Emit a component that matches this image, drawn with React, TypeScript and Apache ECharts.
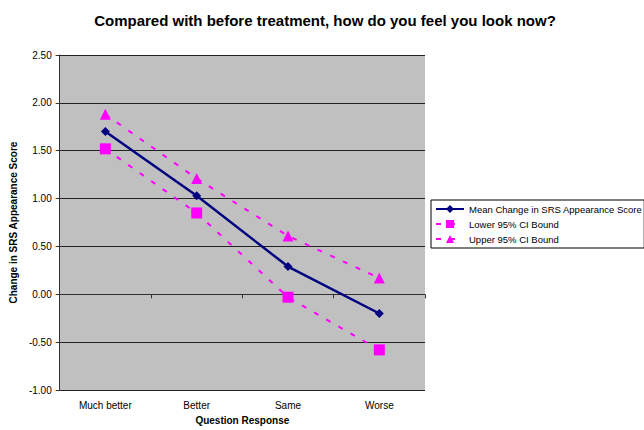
import React, { useEffect, useRef } from "react";
import * as echarts from "echarts";

const categories = ["Much better", "Better", "Same", "Worse"];
const meanChange = [1.7, 1.03, 0.29, -0.2];
const lowerCI = [1.52, 0.85, -0.03, -0.58];
const upperCI = [1.88, 1.21, 0.61, 0.17];

export default function App() {
  const ref = useRef<HTMLDivElement>(null);
  useEffect(() => {
    document.body.style.margin = "0";
    const chart = echarts.init(ref.current!, null, { renderer: "svg" });
    const font = "Arial, 'Liberation Sans', sans-serif";
    chart.setOption({
      animation: false,
      backgroundColor: "#ffffff",
      title: {
        text: "Compared with before treatment, how do you feel you look now?",
        left: 320,
        textAlign: "center",
        top: 8,
        textStyle: { fontFamily: font, fontSize: 15, fontWeight: "bold", color: "#000" },
      },
      grid: {
        left: 53,
        right: 219,
        top: 55,
        bottom: 38,
        show: true,
        backgroundColor: "#C0C0C0",
        borderWidth: 0,
      },
      legend: {
        orient: "vertical",
        left: 431,
        top: 200,
        padding: [4, 2, 4, 4],
        itemWidth: 28,
        itemHeight: 10,
        itemGap: 5,
        borderColor: "#000",
        borderWidth: 1,
        backgroundColor: "#fff",
        textStyle: { fontFamily: font, fontSize: 9.5, color: "#000" },
        data: ["Mean Change in SRS Appearance Score", "Lower 95% CI Bound", "Upper 95% CI Bound"],
      },
      xAxis: {
        type: "category",
        data: categories,
        boundaryGap: true,
        name: "Question Response",
        nameLocation: "middle",
        nameGap: 24,
        nameTextStyle: { fontFamily: font, fontSize: 10, fontWeight: "bold", color: "#000" },
        axisLine: { lineStyle: { color: "#333", width: 1 } },
        axisTick: { show: true, inside: false, length: 4, lineStyle: { color: "#333" } },
        axisLabel: { fontFamily: font, fontSize: 10, color: "#000", margin: 10 },
        splitLine: { show: false },
      },
      yAxis: {
        type: "value",
        min: -1,
        max: 2.5,
        interval: 0.5,
        name: "Change in SRS Appearance Score",
        nameLocation: "middle",
        nameGap: 36,
        nameRotate: 90,
        nameTextStyle: { fontFamily: font, fontSize: 10, fontWeight: "bold", color: "#000" },
        axisLine: { show: true, lineStyle: { color: "#333", width: 1 } },
        axisTick: { show: true, inside: false, length: 4, lineStyle: { color: "#333" } },
        axisLabel: {
          fontFamily: font,
          fontSize: 10,
          color: "#000",
          margin: 8,
          formatter: (v: number) => v.toFixed(2),
        },
        splitLine: { show: true, lineStyle: { color: "#222", width: 1 } },
      },
      series: [
        {
          name: "Mean Change in SRS Appearance Score",
          type: "line",
          data: meanChange,
          symbol: "diamond",
          symbolSize: 9,
          z: 5,
          lineStyle: { color: "#000080", width: 2.5 },
          itemStyle: { color: "#000080" },
        },
        {
          name: "Lower 95% CI Bound",
          type: "line",
          data: lowerCI,
          symbol: "rect",
          symbolSize: 11,
          lineStyle: { color: "#FF00FF", width: 2, type: [5, 9] },
          itemStyle: { color: "#FF00FF" },
        },
        {
          name: "Upper 95% CI Bound",
          type: "line",
          data: upperCI,
          symbol: "triangle",
          symbolSize: 11,
          lineStyle: { color: "#FF00FF", width: 2, type: [5, 9] },
          itemStyle: { color: "#FF00FF" },
        },
      ],
    });
    return () => chart.dispose();
  }, []);
  return <div ref={ref} style={{ width: 644, height: 430 }} />;
}
